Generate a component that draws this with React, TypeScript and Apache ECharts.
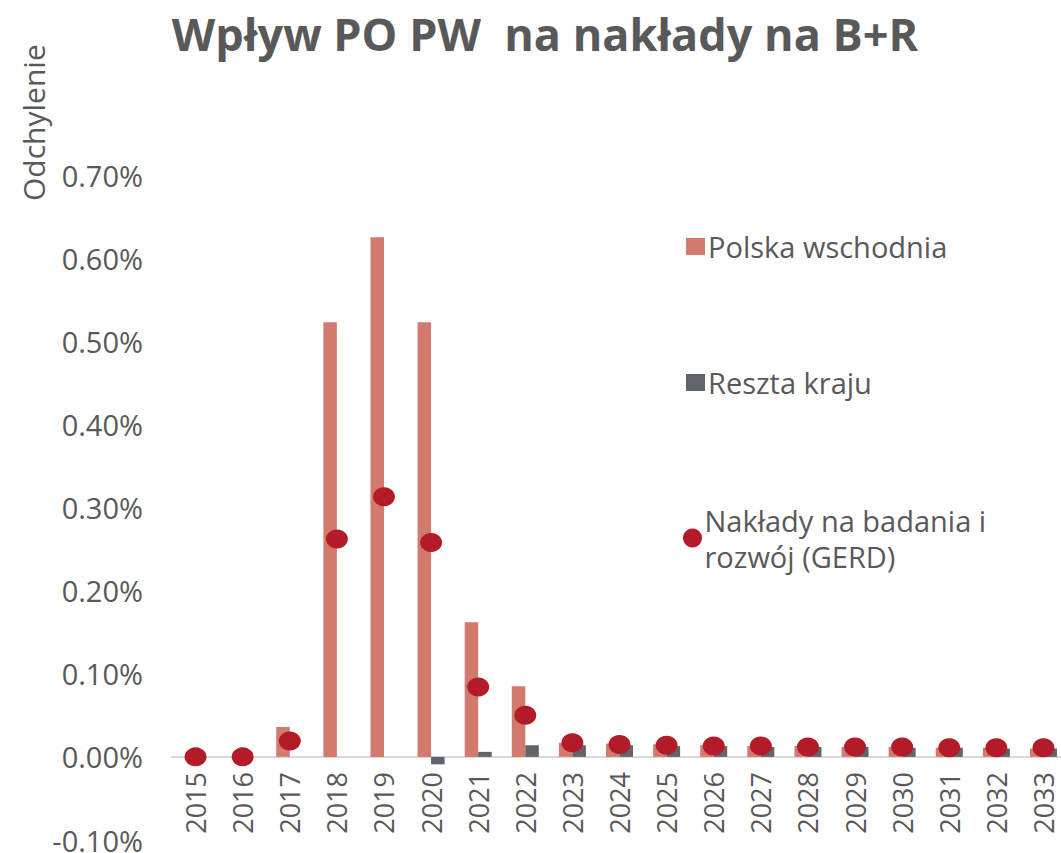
import React, { useEffect, useRef } from "react";
import * as echarts from "echarts";

const years = ["2015","2016","2017","2018","2019","2020","2021","2022","2023","2024","2025","2026","2027","2028","2029","2030","2031","2032","2033"];
const polskaWschodnia = [0, 0, 0.036, 0.523, 0.625, 0.523, 0.162, 0.085, 0.017, 0.016, 0.015, 0.014, 0.013, 0.013, 0.012, 0.012, 0.011, 0.011, 0.010];
const resztaKraju = [0, 0, 0, 0, 0, -0.009, 0.006, 0.014, 0.014, 0.014, 0.013, 0.013, 0.012, 0.012, 0.012, 0.011, 0.011, 0.010, 0.010];
const gerd = [0, 0, 0.019, 0.262, 0.313, 0.258, 0.084, 0.050, 0.017, 0.015, 0.014, 0.013, 0.013, 0.012, 0.012, 0.012, 0.011, 0.011, 0.011];

const TEXT = "#595959";
const FONT = "'Open Sans', 'Noto Sans', sans-serif";

export default function App() {
  const ref = useRef<HTMLDivElement>(null);
  useEffect(() => {
    const chart = echarts.init(ref.current!, undefined, { renderer: "svg" });
    chart.setOption({
      animation: false,
      backgroundColor: "#ffffff",
      title: {
        text: "Wpływ PO PW  na nakłady na B+R",
        left: 540,
        textAlign: "center",
        top: 6,
        textStyle: { fontFamily: FONT, fontWeight: "bold", fontSize: 45, color: TEXT },
      },
      graphic: [
        {
          type: "text",
          x: 18,
          y: 201,
          rotation: Math.PI / 2,
          style: { text: "Odchylenie", fontFamily: FONT, fontSize: 30, fill: TEXT, align: "left", verticalAlign: "top" },
        },
      ],
      legend: [
        {
          data: [{ name: "Polska wschodnia", icon: "rect" }],
          left: 681, top: 227, orient: "vertical", itemWidth: 19, itemHeight: 17,
          textStyle: { fontFamily: FONT, fontSize: 29, color: TEXT, padding: [0, 0, 0, -2] },
        },
        {
          data: [{ name: "Reszta kraju", icon: "rect" }],
          left: 681, top: 363, orient: "vertical", itemWidth: 19, itemHeight: 17,
          textStyle: { fontFamily: FONT, fontSize: 29, color: TEXT, padding: [0, 0, 0, -2] },
        },
        {
          data: [{ name: "Nakłady na badania i rozwój (GERD)", icon: "circle" }],
          left: 678, top: 497, orient: "vertical", itemWidth: 22, itemHeight: 19,
          formatter: () => "Nakłady na badania i\nrozwój (GERD)",
          textStyle: { fontFamily: FONT, fontSize: 29, color: TEXT, lineHeight: 36, padding: [0, 0, 0, -4] },
        },
      ],
      grid: { left: 172, right: -6, top: 175, bottom: 13, outerBoundsMode: "none", containLabel: false },
      xAxis: {
        type: "category",
        data: years,
        axisLine: { onZero: true, lineStyle: { color: "#d9d9d9", width: 2 } },
        axisTick: { show: false },
        axisLabel: { rotate: 90, margin: -68, fontFamily: FONT, fontSize: 27, color: TEXT, interval: 0 },
      },
      yAxis: {
        type: "value",
        min: -0.1,
        max: 0.7,
        interval: 0.1,
        splitLine: { show: false },
        axisLine: { show: false },
        axisTick: { show: false },
        axisLabel: {
          margin: 29,
          fontFamily: FONT,
          fontSize: 29,
          lineHeight: 24,
          color: TEXT,
          formatter: (v: number) => v.toFixed(2) + "%",
        },
      },
      series: [
        {
          name: "Polska wschodnia",
          type: "bar",
          data: polskaWschodnia,
          barWidth: 13.5,
          barGap: "0%",
          itemStyle: { color: "#D27A6E" },
        },
        {
          name: "Reszta kraju",
          type: "bar",
          data: resztaKraju,
          barWidth: 13.5,
          barGap: "0%",
          itemStyle: { color: "#5F6568" },
        },
        {
          name: "Nakłady na badania i rozwój (GERD)",
          type: "scatter",
          data: gerd,
          symbol: "circle",
          symbolSize: [22, 19],
          itemStyle: { color: "#B31B28", opacity: 1 },
          z: 5,
        },
      ],
    });
    return () => chart.dispose();
  }, []);
  return <div ref={ref} style={{ position: "absolute", left: 0, top: 0, width: 1061, height: 853 }} />;
}
